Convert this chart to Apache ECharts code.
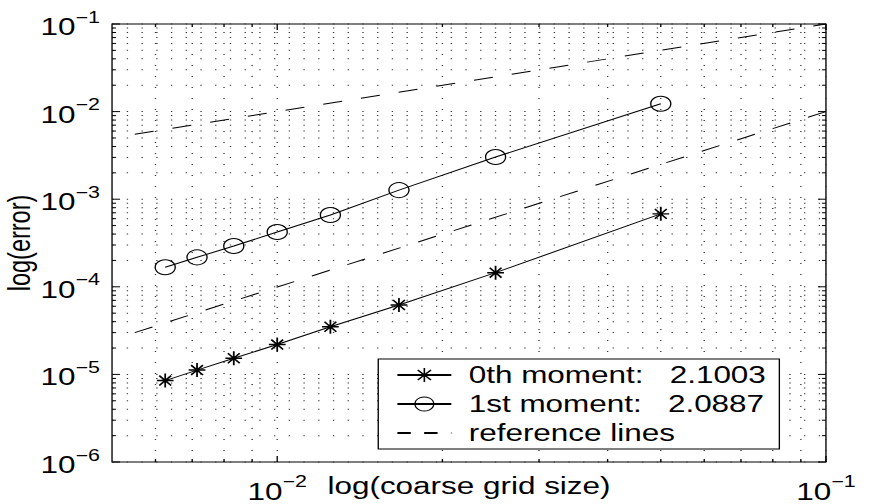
<!DOCTYPE html>
<html><head><meta charset="utf-8">
<script src="https://cdn.jsdelivr.net/npm/echarts@6/dist/echarts.min.js"></script>
<style>
html,body{margin:0;padding:0;background:#fff;overflow:hidden;width:870px;height:504px}
#chart{width:650px;height:504px;transform:scaleX(1.338462);transform-origin:0 0}
</style></head><body><div id="chart"></div>
<script>
// ---- data ----
const gridSize = [0.00625, 0.0071429, 0.0083333, 0.01, 0.0125, 0.0166667, 0.025, 0.05];
const moment0Error = [8.5e-6, 1.12e-5, 1.53e-5, 2.19e-5, 3.5e-5, 6.2e-5, 1.45e-4, 6.8e-4];
const moment1Error = [1.67e-4, 2.17e-4, 2.92e-4, 4.22e-4, 6.6e-4, 1.27e-3, 3.03e-3, 1.23e-2];
const refLineFirstOrder = [[0.0055, 0.0055], [0.1, 0.1]];
const refLineSecondOrder = [[0.0055, 3.0e-5], [0.1, 0.01]];
const seriesNames = ['0th moment:\u00a0\u00a0\u00a02.1003', '1st moment:\u00a0\u00a0\u00a02.0887', 'reference lines'];
const xAxisName = 'log(coarse grid size)';
const yAxisName = 'log(error)';
const xRange = [0.005, 0.1];
const yRange = [1e-6, 1e-1];
const xMajorTicks = [0.01, 0.1];
const xMinorTicks = [0.006, 0.007, 0.008, 0.009, 0.02, 0.03, 0.04, 0.05, 0.06, 0.07, 0.08, 0.09];
const yMajorTicks = [1e-6, 1e-5, 1e-4, 1e-3, 1e-2, 1e-1];
const yMinorTicks = [
  2e-6, 3e-6, 4e-6, 5e-6, 6e-6, 7e-6, 8e-6, 9e-6,
  2e-5, 3e-5, 4e-5, 5e-5, 6e-5, 7e-5, 8e-5, 9e-5,
  2e-4, 3e-4, 4e-4, 5e-4, 6e-4, 7e-4, 8e-4, 9e-4,
  2e-3, 3e-3, 4e-3, 5e-3, 6e-3, 7e-3, 8e-3, 9e-3,
  0.02, 0.03, 0.04, 0.05, 0.06, 0.07, 0.08, 0.09
];

// ---- styling ----
const FONT = "'Liberation Sans', Arial, Helvetica, sans-serif";
const FS = 23.5;
const STAR = 'path://M5,0L5,10M0,5L10,5M1.46,1.46L8.54,8.54M1.46,8.54L8.54,1.46';
const CIRCLE = 'circle';

function powLabel(v) {
  const e = Math.log10(v);
  const r = Math.round(e);
  if (Math.abs(e - r) > 1e-6) return '';
  return '{b|10}{s|' + (r < 0 ? '\u2212' + (-r) : String(r)) + '}';
}
const richPow = {
  b: { fontSize: FS, fontFamily: FONT, color: '#000', padding: [6, 0, 0, 0], verticalAlign: 'bottom' },
  s: { fontSize: 16, fontFamily: FONT, color: '#000', verticalAlign: 'top' }
};

function tickRenderer(dim) {
  return function (params, api) {
    const v = api.value(dim === 'x' ? 0 : 1);
    const len = api.value(2) ? 6 : 3;
    let p0, p1, t0, t1;
    if (dim === 'x') {
      p0 = api.coord([v, yRange[0]]); p1 = api.coord([v, yRange[1]]);
      t0 = [p0[0], p0[1] - len]; t1 = [p1[0], p1[1] + len];
    } else {
      p0 = api.coord([xRange[0], v]); p1 = api.coord([xRange[1], v]);
      t0 = [p0[0] + len, p0[1]]; t1 = [p1[0] - len, p1[1]];
    }
    const solid = { stroke: '#000', lineWidth: 1 };
    return {
      type: 'group', children: [
        { type: 'line', shape: { x1: p0[0], y1: p0[1], x2: p1[0], y2: p1[1] },
          style: { stroke: '#333', lineWidth: 1, lineDash: [1, 10] } },
        { type: 'line', shape: { x1: p0[0], y1: p0[1], x2: t0[0], y2: t0[1] }, style: solid },
        { type: 'line', shape: { x1: p1[0], y1: p1[1], x2: t1[0], y2: t1[1] }, style: solid }
      ]
    };
  };
}

const xTickData = xMajorTicks.map(v => [v, yRange[0], 1]).concat(xMinorTicks.map(v => [v, yRange[0], 0]));
const yTickData = yMajorTicks.map(v => [xRange[0], v, 1]).concat(yMinorTicks.map(v => [xRange[0], v, 0]));

const chart = echarts.init(document.getElementById('chart'), null, { renderer: 'svg' });
chart.setOption({
  animation: false,
  backgroundColor: '#fff',
  grid: { left: 83.7, right: 32.9, top: 24, bottom: 42, show: true, borderColor: '#000', borderWidth: 1,
          backgroundColor: 'transparent', containLabel: false, outerBoundsMode: 'none' },
  xAxis: {
    type: 'log', logBase: 10, min: xRange[0], max: xRange[1],
    name: xAxisName, nameLocation: 'middle', nameGap: 12, nameMoveOverlap: false,
    nameTextStyle: { fontFamily: FONT, fontSize: FS, color: '#000' },
    axisLine: { show: false }, axisTick: { show: false }, splitLine: { show: false },
    axisLabel: { margin: 11.5, formatter: powLabel, rich: richPow, color: '#000' }
  },
  yAxis: {
    type: 'log', logBase: 10, min: yRange[0], max: yRange[1],
    name: yAxisName, nameLocation: 'middle', nameGap: 57, nameMoveOverlap: false,
    nameTextStyle: { fontFamily: FONT, fontSize: FS, color: '#000' },
    axisLine: { show: false }, axisTick: { show: false }, splitLine: { show: false },
    axisLabel: { margin: 9, formatter: powLabel, rich: richPow, color: '#000' }
  },
  legend: {
    orient: 'vertical', left: 282.6, top: 359,
    padding: [1.5, 10, 1.5, 13.3],
    itemGap: 0, itemWidth: 40.3, itemHeight: 17.5,
    backgroundColor: '#fff', borderColor: '#000', borderWidth: 1, borderRadius: 0,
    selectedMode: false,
    textStyle: { fontFamily: FONT, fontSize: FS, color: '#000', lineHeight: 29, padding: [0, 0, 0, 8] },
    data: [
      { name: seriesNames[0], itemStyle: { color: 'rgba(0,0,0,0)', borderColor: '#000', borderWidth: 1.2 } },
      { name: seriesNames[1], itemStyle: { color: 'rgba(0,0,0,0)', borderColor: '#000', borderWidth: 1 } },
      { name: seriesNames[2], itemStyle: { color: 'rgba(0,0,0,0)', borderColor: 'rgba(0,0,0,0)', borderWidth: 0 },
        lineStyle: { type: [10, 10] } }
    ]
  },
  series: [
    { type: 'custom', name: 'xgrid', coordinateSystem: 'cartesian2d', silent: true, z: 1,
      renderItem: tickRenderer('x'), encode: { x: 0, y: 1 }, data: xTickData },
    { type: 'custom', name: 'ygrid', coordinateSystem: 'cartesian2d', silent: true, z: 1,
      renderItem: tickRenderer('y'), encode: { x: 0, y: 1 }, data: yTickData },
    { type: 'line', name: seriesNames[2], data: refLineFirstOrder, symbol: 'none', silent: true, z: 2,
      lineStyle: { color: '#000', width: 1, type: [14.4, 14.4] } },
    { type: 'line', name: seriesNames[2], data: refLineSecondOrder, symbol: 'none', silent: true, z: 2,
      lineStyle: { color: '#000', width: 1, type: [14.4, 14.4] } },
    { type: 'line', name: seriesNames[0], data: gridSize.map((x, i) => [x, moment0Error[i]]),
      symbol: STAR, symbolSize: [12.5, 14], z: 3,
      lineStyle: { color: '#000', width: 1 },
      itemStyle: { color: 'rgba(0,0,0,0)', borderColor: '#000', borderWidth: 1.4 } },
    { type: 'line', name: seriesNames[1], data: gridSize.map((x, i) => [x, moment1Error[i]]),
      symbol: CIRCLE, symbolSize: 15, z: 3,
      lineStyle: { color: '#000', width: 1 },
      itemStyle: { color: 'rgba(0,0,0,0)', borderColor: '#000', borderWidth: 1 } }
  ]
});
</script></body></html>
